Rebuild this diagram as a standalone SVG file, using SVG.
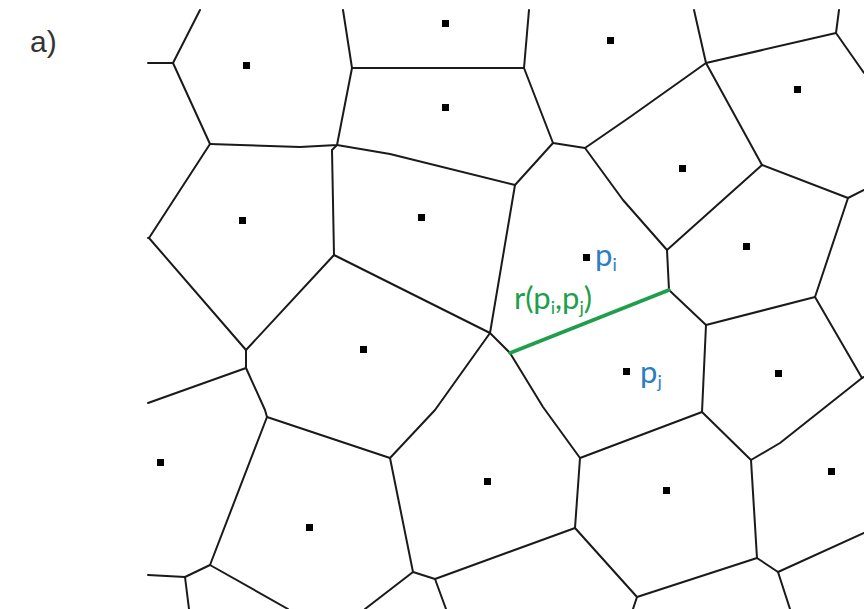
<svg xmlns="http://www.w3.org/2000/svg" width="864" height="609" viewBox="0 0 864 609">
<style>
.e{fill:none;stroke:#1a1a1a;stroke-width:2;stroke-linejoin:round;stroke-linecap:round}
.g{fill:none;stroke:#1f9e4c;stroke-width:3.5;stroke-linecap:round}
.s{fill:#000}
.lbl{font-family:Lato,"Liberation Sans",sans-serif;font-size:31px}
.blue{fill:#2b7fc1}
.green{fill:#1f9e4c}
.tag{font-family:"Liberation Sans",Arial,sans-serif;font-size:30px;fill:#333}
</style>
<rect width="864" height="609" fill="#fff"/>
<text class="tag" x="30" y="52">a)</text>
<g id="connectors">
<path class="e" d="M200,10 L173,63 L148,63"/>
<path class="e" d="M173,63 L210,144 L149,238 L148,238"/>
<path class="e" d="M210,144 L240,145 L300,147 L337,145 L352,68 L343,10"/>
<path class="e" d="M352,68 L524,68 L529,10"/>
<path class="e" d="M524,68 L553,143 L585,148 L630,117 L706,63 L694,10"/>
<path class="e" d="M553,143 L515,185 L390,154 L337,145"/>
<path class="e" d="M337,145 L332,150 L334,255"/>
<path class="e" d="M706,63 L836,33 L839,10"/>
<path class="e" d="M836,33 L864,73"/>
<path class="e" d="M706,63 L762,165 L848,198 L864,190"/>
<path class="e" d="M762,165 L667,250"/>
<path class="e" d="M585,148 L623,200 L667,250 L669,290 L706,325 L815,297 L848,198"/>
<path class="e" d="M815,297 L862,378 L864,377"/>
<path class="e" d="M706,325 L702,412 L751,460 L780,443 L862,378"/>
<path class="e" d="M702,412 L580,458 L575,528 L637,597 L633,609"/>
<path class="e" d="M751,460 L757,558 L778,572 L864,533"/>
<path class="e" d="M778,572 L790,609"/>
<path class="e" d="M757,558 L637,597"/>
<path class="e" d="M580,458 L543,407 L510,353 L490,333 L515,185"/>
<path class="e" d="M490,333 L380,278 L334,255 L246,350 L149,238"/>
<path class="e" d="M490,333 L435,410 L390,458 L413,572 L435,579 L575,528"/>
<path class="e" d="M435,579 L446,609"/>
<path class="e" d="M413,572 L365,609"/>
<path class="e" d="M390,458 L267,417 L265,410 L246,368 L246,350"/>
<path class="e" d="M246,368 L148,403"/>
<path class="e" d="M267,417 L210,565 L185,577 L148,575"/>
<path class="e" d="M185,577 L189,609"/>
<path class="e" d="M210,565 L288,609"/>
<path class="g" d="M510,353 L669,290"/>
</g>
<g id="sites">
<rect class="s" x="243" y="62" width="7" height="7"/>
<rect class="s" x="442" y="20" width="7" height="7"/>
<rect class="s" x="607" y="37" width="7" height="7"/>
<rect class="s" x="442" y="104" width="7" height="7"/>
<rect class="s" x="794" y="86" width="7" height="7"/>
<rect class="s" x="679" y="165" width="7" height="7"/>
<rect class="s" x="239" y="217" width="7" height="7"/>
<rect class="s" x="418" y="214" width="7" height="7"/>
<rect class="s" x="743" y="243" width="7" height="7"/>
<rect class="s" x="360" y="346" width="7" height="7"/>
<rect class="s" x="775" y="370" width="7" height="7"/>
<rect class="s" x="157" y="459" width="7" height="7"/>
<rect class="s" x="484" y="478" width="7" height="7"/>
<rect class="s" x="663" y="487" width="7" height="7"/>
<rect class="s" x="828" y="468" width="7" height="7"/>
<rect class="s" x="306" y="524" width="7" height="7"/>
</g>
<g id="pi">
<rect class="s" x="583" y="254" width="7" height="7"/>
<text class="lbl blue" x="595" y="266">p<tspan font-size="18" dy="5">i</tspan></text>
</g>
<g id="pj">
<rect class="s" x="623" y="368" width="7" height="7"/>
<text class="lbl blue" x="640" y="383">p<tspan font-size="18" dy="5">j</tspan></text>
</g>
<g id="ridge-label">
<text class="lbl green" x="514" y="309">r(p<tspan font-size="18" dy="5">i</tspan><tspan dy="-5">,p</tspan><tspan font-size="18" dy="5">j</tspan><tspan dy="-5">)</tspan></text>
</g>
</svg>
